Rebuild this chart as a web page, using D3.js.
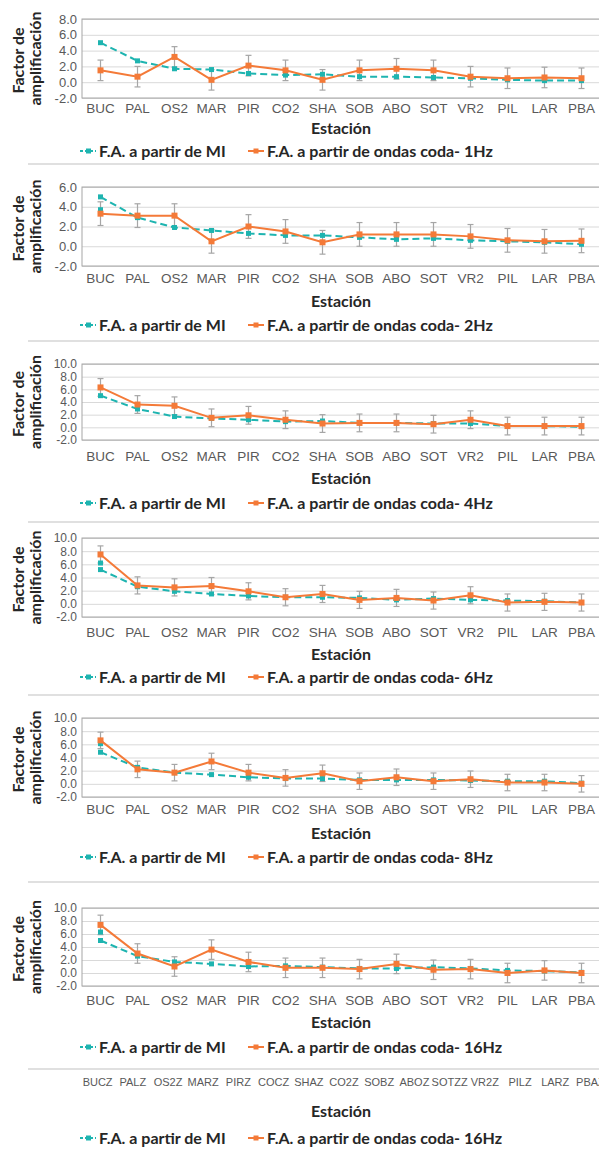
<!DOCTYPE html>
<html lang="es">
<head>
<meta charset="UTF-8" />
<title>factor de amplificacion</title>
<script src="https://d3js.org/d3.v7.min.js"></script>
<style>
  body { margin: 0; background: #fff; }
  svg { display: block; font-family: Lato, "Open Sans", sans-serif; }
</style>
</head>
<body>
<script>
const WIDTH = 599, HEIGHT = 1149;
const TEAL = "#1EB4B0", ORANGE = "#F47A38", BAR = "#A6A6A6", GRID = "#D9D9D9";
const PLOT_LEFT = 82, PLOT_RIGHT = 600;

// categories
const stations = ["BUC", "PAL", "OS2", "MAR", "PIR", "CO2", "SHA", "SOB", "ABO", "SOT", "VR2", "PIL", "LAR", "PBA"];
const stationsZ = ["BUCZ", "PALZ", "OS2Z", "MARZ", "PIRZ", "COCZ", "SHAZ", "CO2Z", "SOBZ", "ABOZ", "SOTZZ", "VR2Z", "PILZ", "LARZ", "PBAZ"];
const freqs = ["1Hz", "2Hz", "4Hz", "6Hz", "8Hz", "16Hz"];
const yMaxes = [8, 6, 10, 10, 10, 10];
const Y_MIN = -2;

// F.A. a partir de MI
const mi1  = [5.0, 2.7, 1.7, 1.6, 1.1, 0.9, 1.0, 0.7, 0.7, 0.6, 0.5, 0.3, 0.2, 0.2];
const mi2  = [5.0, 2.9, 1.9, 1.6, 1.3, 1.1, 1.1, 0.9, 0.7, 0.8, 0.6, 0.5, 0.4, 0.2];
const mi4  = [5.0, 2.9, 1.7, 1.4, 1.2, 0.9, 1.0, 0.7, 0.7, 0.6, 0.6, 0.2, 0.2, 0.1];
const mi6  = [5.2, 2.6, 1.9, 1.5, 1.2, 1.0, 1.0, 0.9, 0.6, 0.8, 0.6, 0.5, 0.4, 0.2];
const mi8  = [4.8, 2.5, 1.7, 1.4, 1.0, 0.8, 0.8, 0.6, 0.6, 0.6, 0.5, 0.4, 0.4, 0.1];
const mi16 = [5.0, 2.6, 1.7, 1.4, 1.0, 1.1, 0.9, 0.7, 0.7, 0.9, 0.7, 0.4, 0.3, 0.1];
// stray MI marker drawn at BUC
const miBucMarker = [null, 3.7, null, 6.2, 6.1, 6.3];

// F.A. a partir de ondas coda
const coda1  = [1.5, 0.7, 3.2, 0.3, 2.1, 1.5, 0.3, 1.5, 1.7, 1.5, 0.7, 0.5, 0.6, 0.5];
const coda2  = [3.3, 3.1, 3.1, 0.5, 2.0, 1.5, 0.4, 1.2, 1.2, 1.2, 1.0, 0.6, 0.5, 0.55];
const coda4  = [6.3, 3.6, 3.4, 1.5, 1.9, 1.2, 0.6, 0.7, 0.7, 0.5, 1.2, 0.2, 0.2, 0.2];
const coda6  = [7.5, 2.8, 2.5, 2.7, 1.9, 1.0, 1.5, 0.6, 0.9, 0.5, 1.3, 0.2, 0.3, 0.2];
const coda8  = [6.6, 2.2, 1.7, 3.4, 1.7, 0.9, 1.6, 0.4, 1.0, 0.4, 0.7, 0.2, 0.2, 0.0];
const coda16 = [7.4, 3.0, 1.0, 3.6, 1.7, 0.8, 0.8, 0.6, 1.4, 0.5, 0.6, 0.0, 0.4, 0.0];
const codaErr = [1.3, 1.2, 1.4, 1.3, 1.25, 1.5];

const miSeries = [mi1, mi2, mi4, mi6, mi8, mi16];
const codaSeries = [coda1, coda2, coda4, coda6, coda8, coda16];

// where each panel sits on the page
const LAYOUT = [
  {top: 19,  bottom: 98,  label: 108,  title: 128,  legend: 151,  sep: 164},
  {top: 187, bottom: 266, label: 278,  title: 301,  legend: 325,  sep: 341},
  {top: 364, bottom: 440, label: 456,  title: 478,  legend: 503,  sep: 522},
  {top: 538, bottom: 617, label: 632,  title: 654,  legend: 677,  sep: 695},
  {top: 718, bottom: 797, label: 809,  title: 833,  legend: 857,  sep: 882},
  {top: 908, bottom: 986, label: 1000, title: 1022, legend: 1047, sep: 1069}
];

const svg = d3.select("body").append("svg")
    .attr("width", WIDTH)
    .attr("height", HEIGHT);

const x = d3.scaleBand().domain(stations).range([PLOT_LEFT, PLOT_RIGHT]);
const cx = d => x(d) + x.bandwidth() / 2;

function legend(g, yc) {
  g.append("line")
      .attr("x1", 80).attr("x2", 96).attr("y1", yc).attr("y2", yc)
      .attr("stroke", TEAL).attr("stroke-width", 2).attr("stroke-dasharray", "3,2");
  g.append("rect").attr("x", 86).attr("y", yc - 2.5).attr("width", 5).attr("height", 5).attr("fill", TEAL);
  g.append("text").attr("x", 99).attr("y", yc).attr("dy", "0.35em")
      .attr("font-size", 16).attr("font-weight", 700).attr("fill", "#262626")
      .text("F.A. a partir de MI");
}
function legendCoda(g, yc, f) {
  g.append("line")
      .attr("x1", 248).attr("x2", 264).attr("y1", yc).attr("y2", yc)
      .attr("stroke", ORANGE).attr("stroke-width", 2);
  g.append("rect").attr("x", 253.5).attr("y", yc - 2.5).attr("width", 5).attr("height", 5).attr("fill", ORANGE);
  g.append("text").attr("x", 267).attr("y", yc).attr("dy", "0.35em")
      .attr("font-size", 16).attr("font-weight", 700).attr("fill", "#262626")
      .text("F.A. a partir de ondas coda- " + f);
}
function estacion(g, yc) {
  g.append("text")
      .attr("x", (PLOT_LEFT + PLOT_RIGHT) / 2).attr("y", yc).attr("dy", "0.35em")
      .attr("text-anchor", "middle")
      .attr("font-size", 16).attr("font-weight", 700).attr("fill", "#262626")
      .text("Estación");
}

freqs.forEach((f, i) => {
  const L = LAYOUT[i];
  const g = svg.append("g");
  const y = d3.scaleLinear().domain([Y_MIN, yMaxes[i]]).range([L.bottom, L.top]);
  const mi = miSeries[i].map((v, j) => ({s: stations[j], v}));
  const coda = codaSeries[i].map((v, j) => ({s: stations[j], v}));
  const err = codaErr[i];

  // y axis + grid
  g.append("g")
      .attr("transform", `translate(${PLOT_LEFT},0)`)
      .call(d3.axisLeft(y)
          .tickValues(d3.range(Y_MIN, yMaxes[i] + 0.1, 2))
          .tickSize(-(PLOT_RIGHT - PLOT_LEFT))
          .tickPadding(5)
          .tickFormat(d => d.toFixed(1)))
      .call(a => a.select(".domain").remove())
      .call(a => a.selectAll(".tick line").attr("stroke", GRID))
      .call(a => a.selectAll(".tick text")
          .attr("font-family", null).attr("font-size", yMaxes[i] > 8 ? 12 : 13)
          .attr("fill", "#595959"));

  // plot border
  g.append("rect")
      .attr("x", PLOT_LEFT).attr("y", L.top)
      .attr("width", PLOT_RIGHT - PLOT_LEFT).attr("height", L.bottom - L.top)
      .attr("fill", "none").attr("stroke", "#A6A6A6");

  // x axis
  g.append("g")
      .attr("transform", `translate(0,${L.bottom})`)
      .call(d3.axisBottom(x).tickSize(0).tickPadding(L.label - L.bottom - 5))
      .call(a => a.select(".domain").remove())
      .call(a => a.selectAll(".tick text")
          .attr("font-family", null).attr("font-size", 13.5).attr("fill", "#595959"));

  // y title
  const ym = (L.top + L.bottom) / 2 + 2;
  g.append("text")
      .attr("transform", `translate(18,${ym}) rotate(-90)`)
      .attr("text-anchor", "middle").attr("dy", "0.35em")
      .attr("font-size", 16).attr("font-weight", 700).attr("fill", "#262626")
      .text("Factor de");
  g.append("text")
      .attr("transform", `translate(35,${ym - 2}) rotate(-90)`)
      .attr("text-anchor", "middle").attr("dy", "0.35em")
      .attr("font-size", 16).attr("font-weight", 700).attr("fill", "#262626")
      .text("amplificación");

  // error bars on coda series
  const eb = g.append("g").attr("stroke", BAR).attr("stroke-width", 1.2);
  eb.selectAll("line.v").data(coda).join("line").attr("class", "v")
      .attr("x1", d => cx(d.s)).attr("x2", d => cx(d.s))
      .attr("y1", d => y(d.v - err)).attr("y2", d => y(d.v + err));
  eb.selectAll("line.t").data(coda).join("line").attr("class", "t")
      .attr("x1", d => cx(d.s) - 3).attr("x2", d => cx(d.s) + 3)
      .attr("y1", d => y(d.v + err)).attr("y2", d => y(d.v + err));
  eb.selectAll("line.b").data(coda).join("line").attr("class", "b")
      .attr("x1", d => cx(d.s) - 3).attr("x2", d => cx(d.s) + 3)
      .attr("y1", d => y(d.v - err)).attr("y2", d => y(d.v - err));

  const line = d3.line().x(d => cx(d.s)).y(d => y(d.v));

  // MI series
  g.append("path").datum(mi)
      .attr("d", line).attr("fill", "none")
      .attr("stroke", TEAL).attr("stroke-width", 2).attr("stroke-dasharray", "7,4");
  g.selectAll("rect.mi").data(mi).join("rect").attr("class", "mi")
      .attr("x", d => cx(d.s) - 2.5).attr("y", d => y(d.v) - 2.5)
      .attr("width", 5).attr("height", 5).attr("fill", TEAL);
  if (miBucMarker[i] != null) {
    g.append("rect")
        .attr("x", cx("BUC") - 2.5).attr("y", y(miBucMarker[i]) - 2.5)
        .attr("width", 5).attr("height", 5).attr("fill", TEAL);
  }

  // coda series
  g.append("path").datum(coda)
      .attr("d", line).attr("fill", "none")
      .attr("stroke", ORANGE).attr("stroke-width", 2);
  g.selectAll("rect.coda").data(coda).join("rect").attr("class", "coda")
      .attr("x", d => cx(d.s) - 3).attr("y", d => y(d.v) - 3)
      .attr("width", 6).attr("height", 6).attr("fill", ORANGE);

  estacion(g, L.title);
  legend(g, L.legend);
  legendCoda(g, L.legend, f);

  // separator
  g.append("line")
      .attr("x1", 28).attr("x2", WIDTH).attr("y1", L.sep).attr("y2", L.sep)
      .attr("stroke", "#E0E0E0").attr("stroke-width", 2);
});

// leftover axis at the bottom
const xz = d3.scaleBand().domain(stationsZ).range([80, 608]);
const gz = svg.append("g");
gz.append("g")
    .attr("transform", `translate(0,${1073})`)
    .call(d3.axisBottom(xz).tickSize(0).tickPadding(5))
    .call(a => a.select(".domain").remove())
    .call(a => a.selectAll(".tick text")
        .attr("font-family", null).attr("font-size", 11).attr("fill", "#595959"));
estacion(gz, 1111);
legend(gz, 1138);
legendCoda(gz, 1138, "16Hz");
</script>
</body>
</html>
